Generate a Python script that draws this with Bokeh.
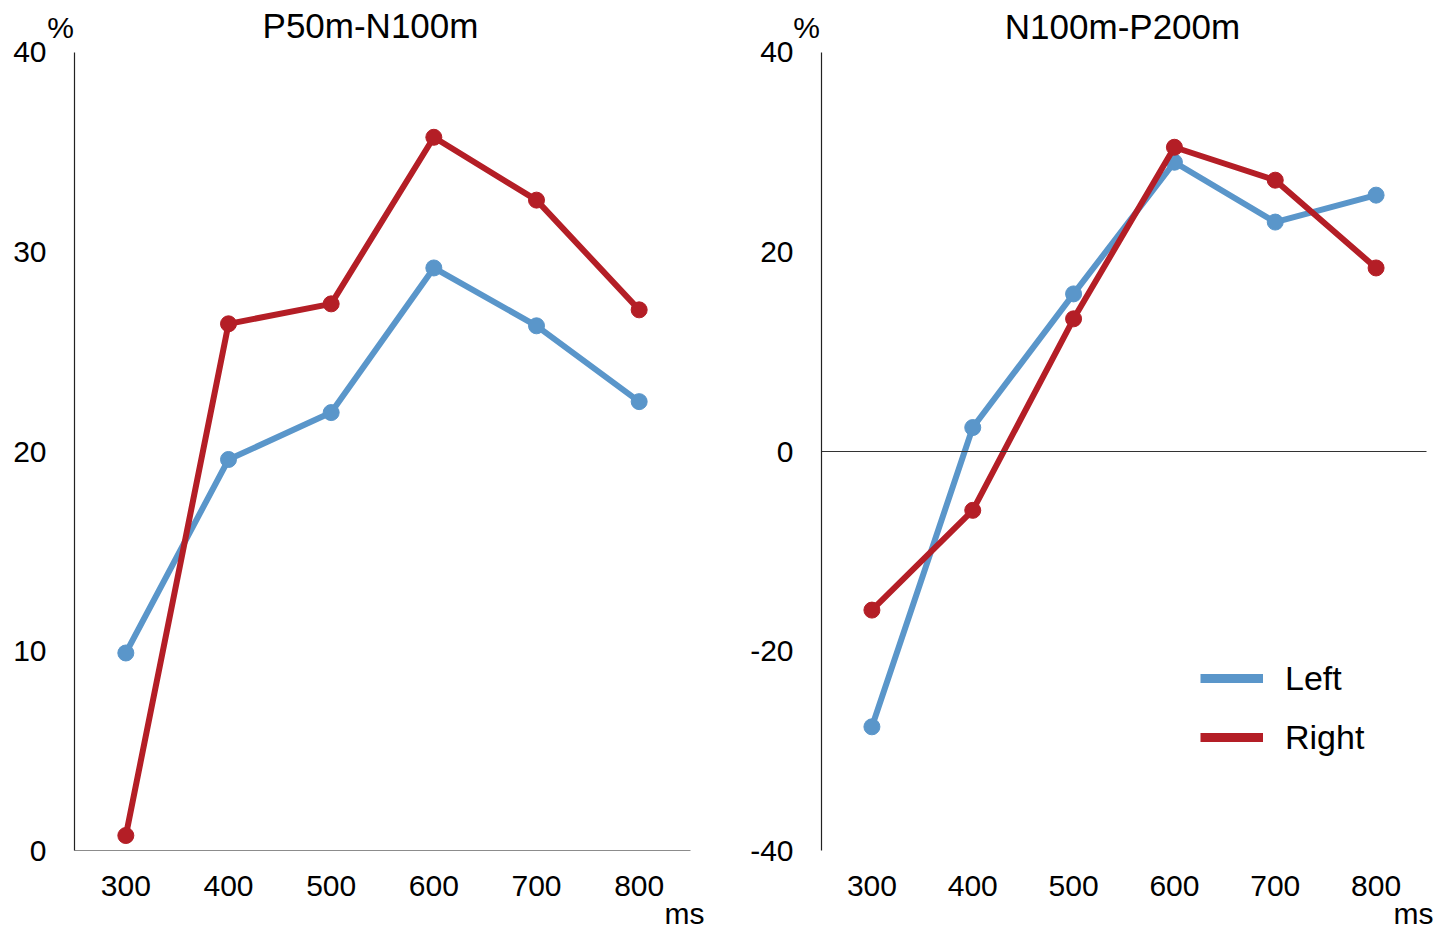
from bokeh.plotting import figure
from bokeh.layouts import row
from bokeh.models import (Range1d, Label, Legend, LegendItem, ColumnDataSource,
                          FixedTicker, LinearAxis)
from bokeh.embed import file_html
from bokeh.resources import INLINE

latency = [300, 400, 500, 600, 700, 800]
p50_left = [9.9, 19.6, 21.95, 29.2, 26.3, 22.5]
p50_right = [0.75, 26.4, 27.4, 35.75, 32.6, 27.1]
n100_left = [-27.6, 2.4, 15.8, 29.0, 23.0, 25.7]
n100_right = [-15.9, -5.9, 13.3, 30.5, 27.2, 18.4]
titles = ["P50m-N100m", "N100m-P200m"]
series_names = ["Left", "Right"]
left_yticks = [0, 10, 20, 30, 40]
right_yticks = [-40, -20, 0, 20, 40]

BLUE = "#5A96CA"
RED = "#B41E26"
FONT = "Liberation Sans"
H = 930


def make_fig(width, xr, yr):
    p = figure(width=width, height=H, x_range=Range1d(*xr), y_range=Range1d(*yr),
               min_border=0, x_axis_location=None, y_axis_location=None,
               output_backend="svg", toolbar_location=None)
    p.xgrid.visible = False
    p.ygrid.visible = False
    p.outline_line_color = None
    return p


def style_axis(ax):
    ax.major_tick_line_color = None
    ax.minor_tick_line_color = None
    ax.major_label_text_font = FONT
    ax.major_label_text_font_size = "30px"
    ax.major_label_text_color = "#000000"


def add_axes(p, yticks, ybounds, xaxis_at, xaxis_line):
    yax = LinearAxis(fixed_location=250, bounds=ybounds, ticker=FixedTicker(ticks=yticks))
    style_axis(yax)
    yax.major_label_standoff = 22
    yax.axis_line_color = "#222222"
    yax.axis_line_width = 1.2
    yax.major_label_overrides = {t: str(t) for t in yticks}
    p.add_layout(yax, "left")
    xax = LinearAxis(fixed_location=xaxis_at, bounds=(250, 850), ticker=FixedTicker(ticks=latency))
    style_axis(xax)
    xax.major_label_standoff = 19
    if xaxis_line:
        xax.axis_line_color = "#8c8c8c"
        xax.axis_line_width = 1
    else:
        xax.axis_line_color = None
    p.add_layout(xax, "below")


def add_series(p, ys, color):
    src = ColumnDataSource(dict(x=latency, y=ys))
    p.line("x", "y", source=src, line_color=color, line_width=6)
    p.scatter("x", "y", source=src, size=16, fill_color=color, line_color=color)


def add_text(p, x, y, txt, size):
    p.add_layout(Label(x=x, y=y, text=txt, text_font=FONT, text_font_size=size,
                       text_align="center", text_baseline="middle", text_color="#000000"))


# Left panel: frame spans the canvas; axes are pinned inside it
p1 = make_fig(748, (177.92, 906.49), (-4.010, 42.6065))
add_axes(p1, left_yticks, (0, 40), 0, True)
add_series(p1, p50_left, BLUE)
add_series(p1, p50_right, RED)
add_text(p1, 538.3, 41.35, titles[0], "35px")
add_text(p1, 236.4, 41.25, "%", "30px")
add_text(p1, 844.2, -3.15, "ms", "30px")

# Right panel
p2 = make_fig(700, (177.60, 871.82), (-48.020, 45.213))
add_axes(p2, right_yticks, (-40, 40), -40, False)
zero = LinearAxis(fixed_location=0, bounds=(250, 850), ticker=FixedTicker(ticks=[]),
                  major_label_text_font_size="0px", axis_line_color="#333333",
                  axis_line_width=1.2)
zero.major_tick_line_color = None
zero.minor_tick_line_color = None
p2.add_layout(zero, "below")
add_series(p2, n100_left, BLUE)
add_series(p2, n100_right, RED)
add_text(p2, 548.5, 42.61, titles[1], "35px")
add_text(p2, 235.1, 42.51, "%", "30px")
add_text(p2, 837.1, -46.3, "ms", "30px")

# legend (line-only swatches; renderers hold a single undrawn NaN point)
nan = float("nan")
lg_l = p2.line("x", "y", source=ColumnDataSource(dict(x=[nan], y=[nan])),
               line_color=BLUE, line_width=9)
lg_r = p2.line("x", "y", source=ColumnDataSource(dict(x=[nan], y=[nan])),
               line_color=RED, line_width=9)
legend = Legend(items=[LegendItem(label=series_names[0], renderers=[lg_l]),
                       LegendItem(label=series_names[1], renderers=[lg_r])],
                location=(452, 168), orientation="vertical",
                glyph_width=63, glyph_height=50, label_height=50, spacing=9,
                label_standoff=22, padding=0, margin=0,
                label_text_font=FONT, label_text_font_size="34px",
                label_text_color="#000000",
                border_line_color=None, background_fill_alpha=0)
p2.add_layout(legend, "center")

layout = row(p1, p2, spacing=0)
open("out.html", "w").write(file_html(layout, INLINE))
